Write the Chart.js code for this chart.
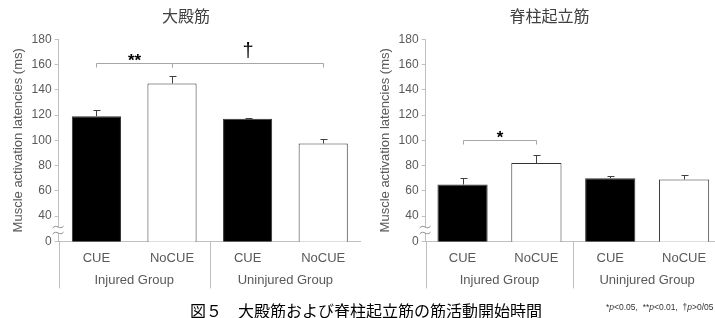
<!DOCTYPE html>
<html>
<head>
<meta charset="utf-8">
<script src="https://cdn.jsdelivr.net/npm/chart.js@4/dist/chart.umd.min.js"></script>
<style>
  body { margin: 0; background: #fff; }
  #wrap { position: relative; width: 715px; height: 318px; overflow: hidden; background: #fff; }
  canvas { position: absolute; top: 0; }
  #c1 { left: 0; }
  #c2 { left: 374px; }
  #caption { position: absolute; left: 190px; top: 298px; font: 16px "Noto Sans CJK JP", sans-serif; color: #000; white-space: nowrap; }
  #note { position: absolute; left: 606px; top: 302px; font: 8.5px "Liberation Sans", sans-serif; color: #333; white-space: nowrap; }
</style>
</head>
<body>
<div id="wrap">
  <canvas id="c1" width="361" height="307"></canvas>
  <canvas id="c2" width="347" height="307"></canvas>
  <div id="caption">図５　大殿筋および脊柱起立筋の筋活動開始時間</div>
  <div id="note">*<i>p</i>&lt;0.05,&nbsp; **<i>p</i>&lt;0.01,&nbsp; †<i>p</i>&gt;0/05</div>
</div>
<script>
const categories = ['CUE', 'NoCUE', 'CUE', 'NoCUE'];
const groups = ['Injured Group', 'Uninjured Group'];
const barColors = ['#000000', '#ffffff', '#000000', '#ffffff'];

// 大殿筋
const gmaxValues = [119, 145, 117, 97.5];
const gmaxErrors = [5, 6, 1, 3.5];
const gmaxBrackets = [[0, 1, 161.5, '**'], [1, 3, 161.5, '†']];

// 脊柱起立筋
const esValues = [65, 82, 70, 69];
const esErrors = [5, 6, 1.5, 3.5];
const esBrackets = [[0, 1, 100, '*']];

// 縦軸（20 の位置に "0" を表示する省略軸）
const axisBase = 20;
const axisMax = 180;
const axisStep = 20;

const grey = '#595959';
const axisColor = '#bfbfbf';

const extras = {
  id: 'extras',
  afterDatasetsDraw(chart, args, opts) {
    const ctx = chart.ctx;
    const y = chart.scales.y;
    const x = chart.scales.x;
    const meta = chart.getDatasetMeta(0);
    const area = chart.chartArea;
    ctx.save();

    // error bars (上側のみ)
    ctx.strokeStyle = '#404040';
    ctx.lineWidth = 1;
    opts.values.forEach((v, i) => {
      const bx = Math.round(meta.data[i].x) + 0.5;
      const top = y.getPixelForValue(v);
      const end = Math.round(y.getPixelForValue(v + opts.errors[i])) + 0.5;
      ctx.beginPath();
      ctx.moveTo(bx, top);
      ctx.lineTo(bx, end);
      ctx.moveTo(bx - 3, end);
      ctx.lineTo(bx + 4, end);
      ctx.stroke();
    });

    // brackets
    opts.brackets.forEach(([a, b, val, label]) => {
      const x1 = Math.round(meta.data[a].x) + 0.5;
      const x2 = Math.round(meta.data[b].x) + 0.5;
      const by = Math.round(y.getPixelForValue(val)) + 0.5;
      ctx.strokeStyle = '#a6a6a6';
      ctx.beginPath();
      ctx.moveTo(x1, by + 4);
      ctx.lineTo(x1, by);
      ctx.lineTo(x2, by);
      ctx.lineTo(x2, by + 4);
      ctx.stroke();
      ctx.fillStyle = '#000';
      ctx.textAlign = 'center';
      ctx.textBaseline = 'bottom';
      if (label === '†') {
        ctx.font = '20px "Liberation Sans", sans-serif';
        ctx.fillText(label, (x1 + x2) / 2, by - 2);
      } else {
        ctx.font = 'bold 17px "Liberation Sans", sans-serif';
        ctx.fillText(label, (x1 + x2) / 2, by + 6);
      }
    });

    // axis break mark
    const ax = area.left;
    const b0 = y.getPixelForValue(axisBase);
    const b1 = y.getPixelForValue(axisBase * 2);
    const mid = b0 - (b0 - b1) * 0.45;
    ctx.fillStyle = '#fff';
    ctx.fillRect(ax - 2, mid - 3, 5, 6);
    ctx.strokeStyle = '#8c8c8c';
    [-3, 3].forEach(d => {
      ctx.beginPath();
      ctx.moveTo(ax - 6, mid + d + 1);
      ctx.bezierCurveTo(ax - 2, mid + d - 4, ax + 1, mid + d + 4, ax + 5, mid + d - 1);
      ctx.stroke();
    });

    // group separators and labels
    const half = (x.getPixelForValue(1) - x.getPixelForValue(0)) / 2;
    const bottom = area.bottom;
    ctx.strokeStyle = axisColor;
    [0, 2, 4].forEach(k => {
      const px = Math.round(x.getPixelForValue(0) - half + k * half * 2) + 0.5;
      ctx.beginPath();
      ctx.moveTo(px, bottom);
      ctx.lineTo(px, bottom + 47);
      ctx.stroke();
    });
    ctx.fillStyle = grey;
    ctx.font = '13px "Liberation Sans", sans-serif';
    ctx.textAlign = 'center';
    ctx.textBaseline = 'middle';
    groups.forEach((g, k) => {
      const gx = (x.getPixelForValue(k * 2) + x.getPixelForValue(k * 2 + 1)) / 2;
      ctx.fillText(g, gx, bottom + 39);
    });
    ctx.restore();
  }
};

function makeChart(id, title, values, errors, brackets, padLeft, barPct) {
  return new Chart(document.getElementById(id), {
    type: 'bar',
    data: {
      labels: categories,
      datasets: [{
        data: values,
        backgroundColor: barColors,
        borderColor: '#333',
        borderWidth: 1,
        barPercentage: barPct,
        categoryPercentage: 1
      }]
    },
    options: {
      responsive: false,
      animation: false,
      layout: { padding: { left: padLeft, right: 0, top: 0, bottom: 32 } },
      plugins: {
        legend: { display: false },
        tooltip: { enabled: false },
        title: {
          display: true,
          text: title,
          color: '#404040',
          font: { family: '"Noto Sans CJK JP", sans-serif', size: 16, weight: 'normal' },
          padding: { top: 6, bottom: 14 }
        },
        extras: { values, errors, brackets }
      },
      scales: {
        x: {
          grid: { display: false, drawTicks: false },
          border: { color: axisColor },
          ticks: { color: grey, padding: 9, font: { family: '"Liberation Sans", sans-serif', size: 13 } }
        },
        y: {
          min: axisBase,
          max: axisMax,
          grid: { drawOnChartArea: false, tickLength: 4, color: axisColor },
          border: { color: axisColor },
          ticks: {
            stepSize: axisStep,
            color: grey,
            padding: 3,
            font: { family: '"Liberation Sans", sans-serif', size: 12 },
            callback: v => (v === axisBase ? '0' : v)
          },
          title: {
            display: true,
            text: 'Muscle activation latencies (ms)',
            color: grey,
            font: { family: '"Liberation Sans", sans-serif', size: 13 },
            padding: { top: 0, bottom: 2 }
          }
        }
      }
    },
    plugins: [extras]
  });
}

makeChart('c1', '大殿筋', gmaxValues, gmaxErrors, gmaxBrackets, 11, 0.65);
makeChart('c2', '脊柱起立筋', esValues, esErrors, esBrackets, 4, 0.68);
</script>
</body>
</html>
